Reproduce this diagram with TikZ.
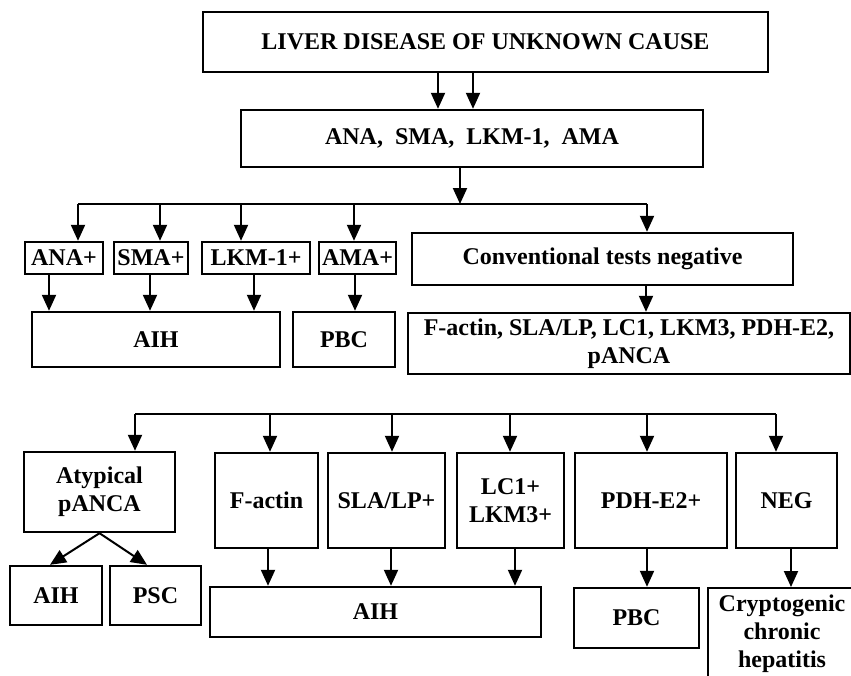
\documentclass[tikz,border=0pt]{standalone}
\usepackage{fontspec}
\setmainfont{Liberation Serif}
\usetikzlibrary{arrows.meta}
\tikzset{every picture/.style={line width=2pt}}
\tikzset{
  box/.style={draw, line width=2.4pt, inner sep=0pt, align=center, font=\fontsize{24}{28}\selectfont\bfseries},
  arr/.style={-{Triangle[length=16pt,width=14pt]}}
}

\begin{document}
\begin{tikzpicture}[x=1pt,y=1pt,yscale=-1,xscale=1]
	\useasboundingbox (0,0) rectangle (851,675);

	%Shape: top boxes
	\node[box, minimum width=565, minimum height=60] (liver) at (485.5,42) {LIVER DISEASE OF UNKNOWN CAUSE};
	\node[box, minimum width=462, minimum height=57] (tests) at (472,138.5) {ANA,~~SMA,~~LKM-1,~~AMA};

	%Shape: first row
	\node[box, minimum width=78, minimum height=32] (ana) at (64,258) {ANA+};
	\node[box, minimum width=74, minimum height=32] (sma) at (151,258) {SMA+};
	\node[box, minimum width=108, minimum height=32] (lkm) at (256,258) {LKM-1+};
	\node[box, minimum width=77, minimum height=32] (ama) at (357.5,258) {AMA+};
	\node[box, minimum width=381, minimum height=52] (conv) at (602.5,259) {Conventional tests negative};

	\node[box, minimum width=248, minimum height=55] (aihA) at (156,339.5) {AIH};
	\node[box, minimum width=102, minimum height=55] (pbcA) at (344,339.5) {PBC};
	\node[box, minimum width=442, minimum height=61] (list) at (629,343.5) {F-actin, SLA/LP, LC1, LKM3, PDH-E2,\\pANCA};

	%Shape: second row
	\node[box, minimum width=151, minimum height=80] (atyp) at (99.5,492) {Atypical\\pANCA};
	\node[box, minimum width=103, minimum height=95] (factin) at (266.5,500.5) {F-actin};
	\node[box, minimum width=117, minimum height=95] (sla) at (386.5,500.5) {SLA/LP+};
	\node[box, minimum width=107, minimum height=95] (lc) at (510.5,500.5) {LC1+\\LKM3+};
	\node[box, minimum width=152, minimum height=95] (pdh) at (651,500.5) {PDH-E2+};
	\node[box, minimum width=101, minimum height=95] (neg) at (786.5,500.5) {NEG};

	\node[box, minimum width=92, minimum height=59] (aihS) at (56,595.5) {AIH};
	\node[box, minimum width=91, minimum height=59] (psc) at (155.5,595.5) {PSC};
	\node[box, minimum width=331, minimum height=50] (aihB) at (375.5,612) {AIH};
	\node[box, minimum width=125, minimum height=60] (pbcB) at (636.5,618) {PBC};
	\node[box, anchor=north, minimum width=148, minimum height=92] (cry) at (782,587) {Cryptogenic\\chronic\\hepatitis};

	%Straight Lines: top
	\draw[arr] ([xshift=-34]tests.north |- liver.south) -- ([xshift=-34]tests.north);
	\draw[arr] ([xshift=1]tests.north |- liver.south) -- ([xshift=1]tests.north);

	%Straight Lines: first branch
	\coordinate (b1) at (460,204);
	\draw[arr] (tests.south -| b1) -- (b1);
	\draw ([xshift=14]ana.north |- b1) -- ([xshift=44.5]conv.north |- b1);
	\foreach \n/\dx in {ana/14,sma/9,lkm/-15,ama/-3.5,conv/44.5}
		\draw[arr] ([xshift=\dx]\n.north |- b1) -- ([xshift=\dx]\n.north);

	\foreach \n/\m/\dx in {ana/aihA/-15,sma/aihA/-1,lkm/aihA/-2,ama/pbcA/-2.5,conv/list/43.5}
		\draw[arr] ([xshift=\dx]\n.south) -- ([xshift=\dx]\n.south |- \m.north);

	%Straight Lines: second branch
	\coordinate (b2) at (135,414);
	\draw ([xshift=35.5]atyp.north |- b2) -- ([xshift=-10.5]neg.north |- b2);
	\foreach \n/\dx in {atyp/35.5,factin/3.5,sla/5.5,lc/-0.5,pdh/-4,neg/-10.5}
		\draw[arr] ([xshift=\dx]\n.north |- b2) -- ([xshift=\dx]\n.north);

	\draw[arr] (atyp.south) -- ([xshift=-6]aihS.north);
	\draw[arr] (atyp.south) -- ([xshift=-8.5]psc.north);
	\foreach \n/\m/\dx in {factin/aihB/1.5,sla/aihB/4.5,lc/aihB/4.5,pdh/pbcB/-4,neg/cry/4.5}
		\draw[arr] ([xshift=\dx]\n.south) -- ([xshift=\dx]\n.south |- \m.north);

\end{tikzpicture}
\end{document}
